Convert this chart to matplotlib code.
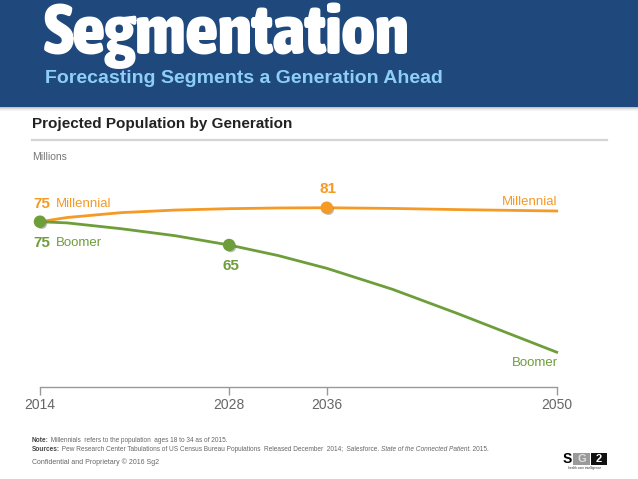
import numpy as np
import matplotlib
matplotlib.use("Agg")
import matplotlib.pyplot as plt
import matplotlib.patheffects as pe
from matplotlib import font_manager
from matplotlib.patches import Rectangle
from matplotlib.lines import Line2D

# data (millions)
years = [2014, 2016, 2020, 2024, 2028, 2032, 2036, 2040, 2044, 2050]
millennial = [75, 76.8, 78.9, 80.0, 80.6, 80.9, 81, 80.7, 80.2, 79.6]
boomer = [75, 74.5, 72.0, 69.0, 65, 60.5, 55.0, 46.0, 35.5, 19]
tick_years = [2014, 2028, 2036, 2050]
# where the source slide puts each tick along the axis (not to scale)
tick_frac = [0.0, 0.366, 0.555, 1.0]

W, H = 638, 479
ORANGE = '#f49a25'
GREEN = '#6e9e3a'
BAND = '#1f497d'


def fx(px):
    return px / W


def fy(py):
    return 1 - py / H


# look for a condensed/narrow bold face for the big title
def pick_narrow():
    narrow = ('condensed', 'semi-condensed', 'extra-condensed', 'ultra-condensed')
    best = None
    for f in font_manager.fontManager.ttflist:
        st = f.stretch if isinstance(f.stretch, str) else ''
        is_narrow = st in narrow or 'Narrow' in f.name or 'Condensed' in f.name
        w = f.weight if isinstance(f.weight, int) else (700 if 'bold' in str(f.weight) else 400)
        if is_narrow and w >= 600:
            score = w
            if best is None or score > best[0]:
                best = (score, f.fname)
    return best[1] if best else None


fig = plt.figure(figsize=(W / 100, H / 100), dpi=100)
fig.patch.set_facecolor('white')

# header band + soft shadow
fig.patches.append(Rectangle((0, fy(107)), 1, 107 / H, transform=fig.transFigure,
                             facecolor=BAND, edgecolor='none', zorder=0))
for i, a in enumerate([0.35, 0.22, 0.12, 0.05]):
    fig.patches.append(Rectangle((0, fy(108 + i)), 1, 1 / H, transform=fig.transFigure,
                                 facecolor='#555555', alpha=a, edgecolor='none', zorder=0))

narrow_file = pick_narrow()
if narrow_file:
    title_font = dict(fontproperties=font_manager.FontProperties(fname=narrow_file, size=47))
else:
    title_font = dict(family='Liberation Sans', fontweight='bold', fontsize=47)
seg = fig.text(fx(44), fy(54), 'Segmentation', color='white', va='baseline', ha='left',
               **title_font)
# fit the title to the width it has on the slide (about 366 px)
renderer = fig.canvas.get_renderer()
wpx = seg.get_window_extent(renderer).width
seg.set_fontsize(47 * min(1.12, 366 / wpx))

fig.text(fx(45), fy(83), 'Forecasting Segments a Generation Ahead', family='Liberation Sans',
         fontweight='bold', fontsize=14, color='#8dcff5', va='baseline', ha='left')

fig.text(fx(32), fy(124), 'Projected Population by Generation', family='Liberation Sans',
         fontweight='bold', fontsize=11, color='#222222', va='center', ha='left')
fig.lines.append(Line2D([fx(32), fx(607)], [fy(140), fy(140)], transform=fig.transFigure,
                        color='#d4d4d4', lw=1.6))
fig.text(fx(32), fy(157), 'Millions', family='Liberation Sans', fontsize=7.5,
         color='#777777', va='center', ha='left')

# chart
ax = fig.add_axes([fx(40), fy(387), fx(556.7) - fx(40), (387 - 170) / H])


def fwd(x):
    return np.interp(x, tick_years, tick_frac)


def inv(f):
    return np.interp(f, tick_frac, tick_years)


ax.set_xscale('function', functions=(fwd, inv))
ax.set_xlim(2014, 2050)
ax.set_ylim(4.06, 97.2)

ax.plot(years, millennial, color=ORANGE, lw=2.0, clip_on=False, zorder=3)
ax.plot(years, boomer, color=GREEN, lw=2.0, clip_on=False, zorder=3)

shadow = [pe.SimplePatchShadow(offset=(1.2, -1.2), shadow_rgbFace='#777777', alpha=0.5), pe.Normal()]
ax.plot([2036], [81], 'o', ms=8, color=ORANGE, mec=ORANGE, clip_on=False, zorder=4,
        path_effects=shadow)
ax.plot([2014, 2028], [75, 65], 'o', ms=8, color=GREEN, mec=GREEN, clip_on=False, zorder=5,
        path_effects=shadow)

for s in ['top', 'left', 'right']:
    ax.spines[s].set_visible(False)
ax.spines['bottom'].set_color('#999999')
ax.spines['bottom'].set_linewidth(1)
ax.set_yticks([])
ax.set_xticks(tick_years)
ax.set_xticklabels([str(y) for y in tick_years])
ax.xaxis.set_minor_locator(matplotlib.ticker.NullLocator())
ax.tick_params(axis='x', direction='out', length=6, width=1, color='#999999',
               labelcolor='#666666', labelsize=10, pad=2)
for t in ax.get_xticklabels():
    t.set_family('Liberation Sans')


def lab(txt, x, y, dx, dy, color, bold=False, ha='left', size=9.5):
    ax.annotate(txt, (x, y), xytext=(dx, dy), textcoords='offset pixels', ha=ha, va='center',
                color=color, fontsize=size, family='Liberation Sans',
                fontweight='bold' if bold else 'normal', annotation_clip=False)


lab('75', years[0], millennial[0], -7, 18, ORANGE, bold=True, size=11)
lab('Millennial', years[0], millennial[0], 16, 18, ORANGE)
lab('75', years[0], boomer[0], -7, -21, GREEN, bold=True, size=11)
lab('Boomer', years[0], boomer[0], 16, -21, GREEN)
lab('81', 2036, 81, 1, 19, ORANGE, bold=True, ha='center', size=11)
lab('65', 2028, 65, 2, -21, GREEN, bold=True, ha='center', size=11)
lab('Millennial', years[-1], millennial[-1], 1, 9, ORANGE, ha='right')
lab('Boomer', years[-1], boomer[-1], 1, -11, GREEN, ha='right')

# footer
FS = 4.7
GREY = '#666666'
note_b = fig.text(fx(32), fy(441), 'Note:', fontsize=FS, fontweight='bold', color='#444444',
                  family='Liberation Sans', va='center')
ax.annotate(' Millennials  refers to the population  ages 18 to 34 as of 2015.', xy=(1, 0.5),
            xycoords=note_b, va='center', ha='left', fontsize=FS, color=GREY,
            family='Liberation Sans', annotation_clip=False)

src_b = fig.text(fx(32), fy(449.5), 'Sources:', fontsize=FS, fontweight='bold', color='#444444',
                 family='Liberation Sans', va='center')
s2 = ax.annotate(' Pew Research Center Tabulations of US Census Bureau Populations  Released December  2014;  Salesforce. ',
                 xy=(1, 0.5), xycoords=src_b, va='center', ha='left', fontsize=FS, color=GREY,
                 family='Liberation Sans', annotation_clip=False)
s3 = ax.annotate('State of the Connected Patient', xy=(1, 0.5), xycoords=s2, va='center',
                 ha='left', fontsize=FS, color=GREY, style='italic', family='Liberation Sans',
                 annotation_clip=False)
ax.annotate('. 2015.', xy=(1, 0.5), xycoords=s3, va='center', ha='left', fontsize=FS,
            color=GREY, family='Liberation Sans', annotation_clip=False)

fig.text(fx(32), fy(462), 'Confidential and Proprietary \u00a9 2016 Sg2', fontsize=5,
         color=GREY, family='Liberation Sans', va='center')

# small Sg2 logo
fig.text(fx(563), fy(459), 'S', fontsize=10, fontweight='bold', color='black',
         family='Liberation Sans', va='center', ha='left')
fig.patches.append(Rectangle((fx(573), fy(465)), fx(17), 12 / H, transform=fig.transFigure,
                             facecolor='#9a9a9a', edgecolor='none'))
fig.text(fx(581.5), fy(459), 'G', fontsize=8, fontweight='bold', color='#dddddd',
         family='Liberation Sans', va='center', ha='center')
fig.patches.append(Rectangle((fx(591), fy(465)), fx(16), 12 / H, transform=fig.transFigure,
                             facecolor='#111111', edgecolor='none'))
fig.text(fx(599), fy(459), '2', fontsize=8, fontweight='bold', color='white',
         family='Liberation Sans', va='center', ha='center')
fig.text(fx(585), fy(468.5), 'health care intelligence', fontsize=2.3, color='#333333',
         family='Liberation Sans', va='center', ha='center')

fig.savefig('out.png', dpi=100)
